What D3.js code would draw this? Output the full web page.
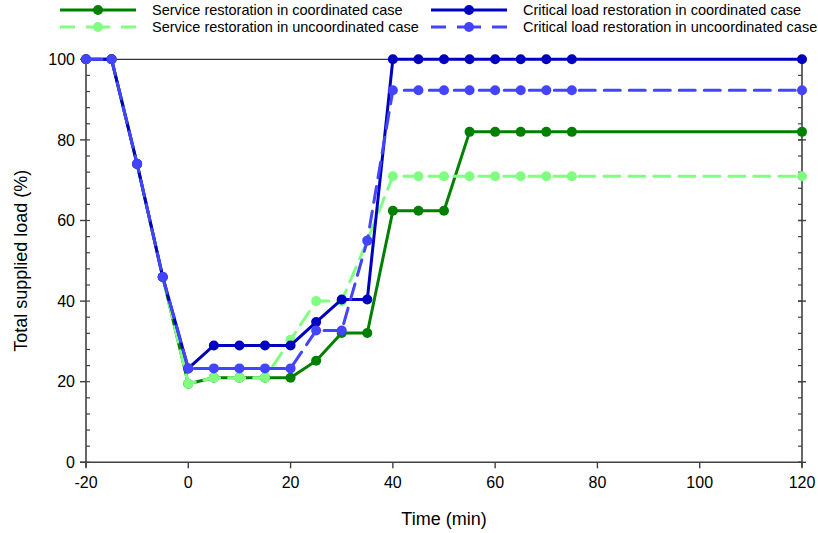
<!DOCTYPE html>
<html><head><meta charset="utf-8">
<script src="https://cdn.jsdelivr.net/npm/d3@7/dist/d3.min.js"></script>
<style>body{margin:0;background:#fff}svg{display:block;font-family:"Liberation Sans",Arial,sans-serif}</style>
</head><body><svg id="c" width="818" height="533"></svg>
<script>
const time = [-20,-15,-10,-5,0,5,10,15,20,25,30,35,40,45,50,55,60,65,70,75,120];
const serviceCoord   = [100,100,74,46,19.5,21,21,21,21,25.2,32.1,32.1,62.4,62.4,62.4,82,82,82,82,82,82];
const serviceUncoord = [100,100,74,46,19.5,21,21,21,30.4,40,40,55,71,71,71,71,71,71,71,71,71];
const criticalCoord  = [100,100,74,46,23.3,29,29,29,29,34.8,40.4,40.4,100,100,100,100,100,100,100,100,100];
const criticalUncoord= [100,100,74,46,23.3,23.3,23.3,23.3,23.3,32.7,32.7,55,92.3,92.3,92.3,92.3,92.3,92.3,92.3,92.3,92.3];
const seriesNames = ["Service restoration in coordinated case","Service restoration in uncoordinated case","Critical load restoration in coordinated case","Critical load restoration in uncoordinated case"];
const xTicks = [-20,0,20,40,60,80,100,120];
const yTicks = [0,20,40,60,80,100];

const series = [
  {name:seriesNames[0], values:serviceCoord, color:"#008000", dash:null},
  {name:seriesNames[1], values:serviceUncoord, color:"#80ff80", dash:"16,9"},
  {name:seriesNames[2], values:criticalCoord, color:"#0000c0", dash:null},
  {name:seriesNames[3], values:criticalUncoord, color:"#4444ff", dash:"16,9"}
];

const svg = d3.select("#c");
const L=86, R=802, T=59.3, B=462.3;
const x = d3.scaleLinear().domain([-20,120]).range([L,R]);
const y = d3.scaleLinear().domain([0,100]).range([B,T]);
const axisColor="#404040";

// top line
svg.append("line").attr("x1",L).attr("x2",R).attr("y1",T).attr("y2",T).attr("stroke","#000").attr("stroke-width",1);

// left axis
const yMinor = d3.range(0,100.01,4);
const gL = svg.append("g");
gL.append("line").attr("x1",L).attr("x2",L).attr("y1",T).attr("y2",B+5).attr("stroke",axisColor).attr("stroke-width",1.6);
gL.selectAll(".mn").data(yMinor).enter().append("line").attr("x1",L).attr("x2",L+4).attr("y1",d=>y(d)).attr("y2",d=>y(d)).attr("stroke",axisColor).attr("stroke-width",1.2);
gL.selectAll(".mj").data(yTicks).enter().append("line").attr("x1",L-6).attr("x2",L).attr("y1",d=>y(d)).attr("y2",d=>y(d)).attr("stroke",axisColor).attr("stroke-width",1.4);
gL.selectAll("text").data(yTicks).enter().append("text").attr("x",L-11).attr("y",d=>y(d)).attr("dy","0.35em").attr("text-anchor","end").attr("font-size",16).attr("fill","#000").text(d=>d);

// right axis
const gR = svg.append("g");
gR.append("line").attr("x1",R).attr("x2",R).attr("y1",T).attr("y2",B+5).attr("stroke",axisColor).attr("stroke-width",1.6);
gR.selectAll(".mn").data(yMinor).enter().append("line").attr("x1",R-4).attr("x2",R).attr("y1",d=>y(d)).attr("y2",d=>y(d)).attr("stroke",axisColor).attr("stroke-width",1.2);
gR.selectAll(".mj").data(yTicks).enter().append("line").attr("x1",R-4).attr("x2",R+4).attr("y1",d=>y(d)).attr("y2",d=>y(d)).attr("stroke",axisColor).attr("stroke-width",1.4);

// bottom axis
const gB = svg.append("g");
gB.append("line").attr("x1",L-6).attr("x2",R).attr("y1",B).attr("y2",B).attr("stroke",axisColor).attr("stroke-width",1.6);
gB.selectAll(".mj").data(xTicks).enter().append("line").attr("x1",d=>x(d)).attr("x2",d=>x(d)).attr("y1",B).attr("y2",B+6).attr("stroke",axisColor).attr("stroke-width",1.4);
gB.selectAll("text").data(xTicks).enter().append("text").attr("x",d=>x(d)).attr("y",B+20).attr("dy","0.35em").attr("text-anchor","middle").attr("font-size",16).attr("fill","#000").text(d=>d);

// titles
svg.append("text").attr("x",(L+R)/2).attr("y",519).attr("dy","0.35em").attr("text-anchor","middle").attr("font-size",18).text("Time (min)");
svg.append("text").attr("transform","translate(21,"+((T+B)/2)+") rotate(-90)").attr("dy","0.35em").attr("text-anchor","middle").attr("font-size",18).text("Total supplied load (%)");

// series
const line = d3.line().x((d,i)=>x(time[i])).y(d=>y(d));
series.forEach(s=>{
  const g = svg.append("g");
  g.append("path").attr("d",line(s.values)).attr("fill","none").attr("stroke",s.color).attr("stroke-width",3)
    .attr("stroke-linecap",s.dash?"round":"butt").attr("stroke-linejoin","round").attr("stroke-dasharray",s.dash);
  g.selectAll("circle").data(s.values).enter().append("circle").attr("cx",(d,i)=>x(time[i])).attr("cy",d=>y(d)).attr("r",5).attr("fill",s.color);
});

// legend
const legPos = [{x0:60,yc:10},{x0:60,yc:27},{x0:431,yc:10},{x0:431,yc:27}];
series.forEach((s,i)=>{
  const p = legPos[i];
  const g = svg.append("g");
  g.append("line").attr("x1",p.x0).attr("x2",p.x0+76).attr("y1",p.yc).attr("y2",p.yc).attr("stroke",s.color).attr("stroke-width",3)
    .attr("stroke-dasharray",s.dash?"15,11,24,11,15":null);
  g.append("circle").attr("cx",p.x0+38).attr("cy",p.yc).attr("r",5).attr("fill",s.color);
  g.append("text").attr("x",p.x0+92).attr("y",p.yc).attr("dy","0.35em").attr("font-size",14.5).attr("fill","#000").text(s.name);
});
</script></body></html>
